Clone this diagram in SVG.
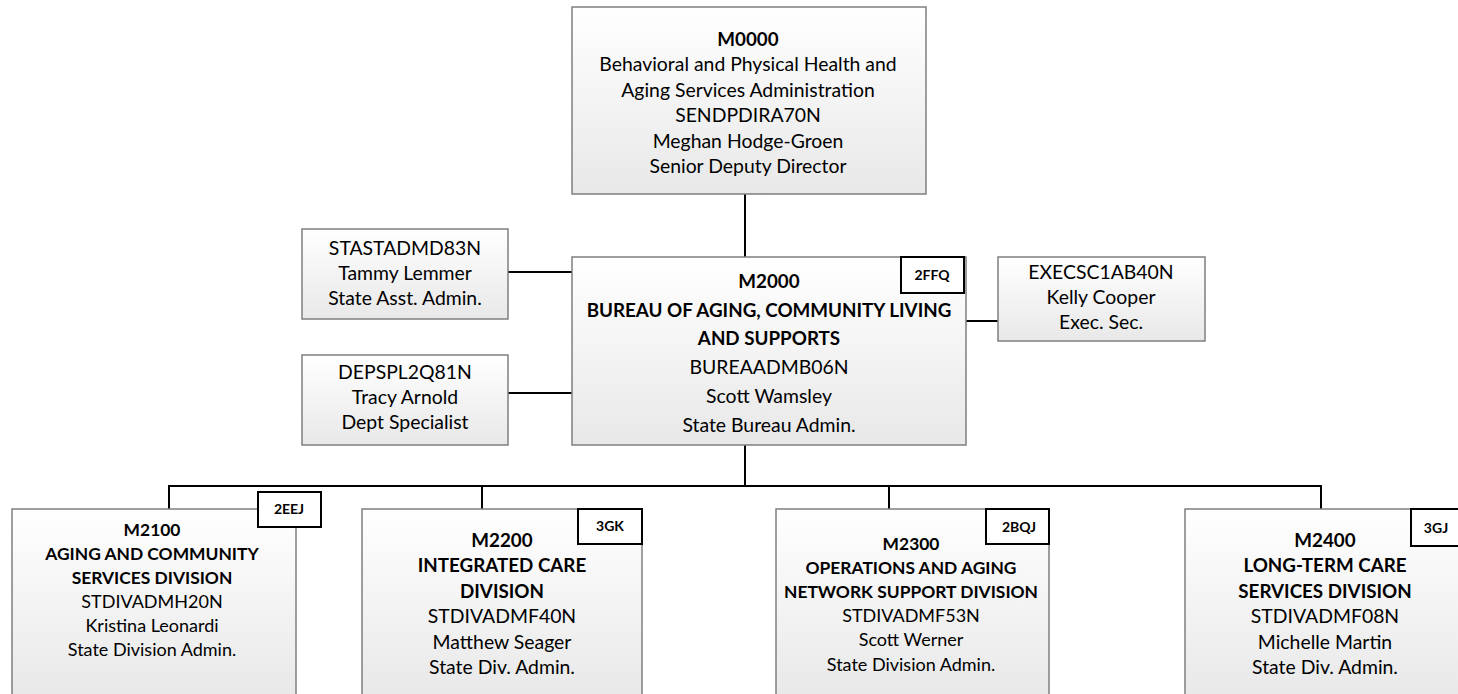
<svg xmlns="http://www.w3.org/2000/svg" width="1458" height="694" viewBox="0 0 1458 694">
<defs>
<linearGradient id="g" x1="0" y1="0" x2="0" y2="1">
<stop offset="0" stop-color="#ffffff"/>
<stop offset="1" stop-color="#e8e8e8"/>
</linearGradient>
<style>
.box{fill:url(#g);stroke:#7f7f7f;stroke-width:1.5}
.badge{fill:#fff;stroke:#000;stroke-width:2}
.t{font-family:Lato,"Liberation Sans",sans-serif;font-size:19.4px;fill:#000;text-anchor:middle}
.b{font-weight:bold;font-size:18.8px}
.s{font-size:18px}
.sb{font-weight:bold;font-size:17.4px}
.bt{font-family:Lato,"Liberation Sans",sans-serif;font-size:14px;font-weight:bold;fill:#000;text-anchor:middle}
.conn{stroke:#000;stroke-width:2;fill:none}
</style>
</defs>
<rect width="1458" height="694" fill="#fff"/>
<g id="connectors">
<path class="conn" d="M745,194 V257"/>
<path class="conn" d="M508,272 H572"/>
<path class="conn" d="M508,393 H572"/>
<path class="conn" d="M966,321 H998"/>
<path class="conn" d="M745,445 V486"/>
<path class="conn" d="M169,509 V486 H1321 V509"/>
<path class="conn" d="M482,486 V509"/>
<path class="conn" d="M889,486 V509"/>
</g>
<g id="M0000">
<rect class="box" x="572" y="7" width="354" height="187"/>
<text class="t b" x="748" y="46">M0000</text>
<text class="t" x="748" y="71.4">Behavioral and Physical Health and</text>
<text class="t" x="748" y="96.8">Aging Services Administration</text>
<text class="t" x="748" y="122.2">SENDPDIRA70N</text>
<text class="t" x="748" y="147.6">Meghan Hodge-Groen</text>
<text class="t" x="748" y="173">Senior Deputy Director</text>
</g>
<g id="STASTADMD83N">
<rect class="box" x="302" y="229" width="206" height="90"/>
<text class="t" x="405" y="255">STASTADMD83N</text>
<text class="t" x="405" y="280">Tammy Lemmer</text>
<text class="t" x="405" y="305">State Asst. Admin.</text>
</g>
<g id="DEPSPL2Q81N">
<rect class="box" x="302" y="355" width="206" height="90"/>
<text class="t" x="405" y="379">DEPSPL2Q81N</text>
<text class="t" x="405" y="404">Tracy Arnold</text>
<text class="t" x="405" y="429">Dept Specialist</text>
</g>
<g id="M2000">
<rect class="box" x="572" y="257" width="394" height="188"/>
<text class="t b" x="769" y="288">M2000</text>
<text class="t b" x="769" y="316.7">BUREAU OF AGING, COMMUNITY LIVING</text>
<text class="t b" x="769" y="345.4">AND SUPPORTS</text>
<text class="t" x="769" y="374.1">BUREAADMB06N</text>
<text class="t" x="769" y="402.8">Scott Wamsley</text>
<text class="t" x="769" y="431.5">State Bureau Admin.</text>
<rect class="badge" x="901" y="257" width="63" height="36"/>
<text class="bt" x="932" y="280">2FFQ</text>
</g>
<g id="EXECSC1AB40N">
<rect class="box" x="998" y="257" width="207" height="84"/>
<text class="t" x="1101" y="279">EXECSC1AB40N</text>
<text class="t" x="1101" y="304">Kelly Cooper</text>
<text class="t" x="1101" y="329">Exec. Sec.</text>
</g>
<g id="M2100">
<rect class="box" x="12" y="509" width="284" height="190"/>
<text class="t sb" x="152" y="536">M2100</text>
<text class="t sb" x="152" y="560">AGING AND COMMUNITY</text>
<text class="t sb" x="152" y="584">SERVICES DIVISION</text>
<text class="t s" x="152" y="608">STDIVADMH20N</text>
<text class="t s" x="152" y="632">Kristina Leonardi</text>
<text class="t s" x="152" y="656">State Division Admin.</text>
<rect class="badge" x="258" y="492" width="63" height="35"/>
<text class="bt" x="289" y="514">2EEJ</text>
</g>
<g id="M2200">
<rect class="box" x="362" y="509" width="280" height="190"/>
<text class="t b" x="502" y="547">M2200</text>
<text class="t b" x="502" y="572.4">INTEGRATED CARE</text>
<text class="t b" x="502" y="597.8">DIVISION</text>
<text class="t" x="502" y="623.2">STDIVADMF40N</text>
<text class="t" x="502" y="648.6">Matthew Seager</text>
<text class="t" x="502" y="674">State Div. Admin.</text>
<rect class="badge" x="578" y="509" width="64" height="35"/>
<text class="bt" x="610" y="531">3GK</text>
</g>
<g id="M2300">
<rect class="box" x="776" y="509" width="273" height="190"/>
<text class="t sb" x="911" y="549.5">M2300</text>
<text class="t sb" x="911" y="573.7">OPERATIONS AND AGING</text>
<text class="t sb" x="911" y="597.9">NETWORK SUPPORT DIVISION</text>
<text class="t s" x="911" y="622.1">STDIVADMF53N</text>
<text class="t s" x="911" y="646.3">Scott Werner</text>
<text class="t s" x="911" y="670.5">State Division Admin.</text>
<rect class="badge" x="986" y="509" width="63" height="35"/>
<text class="bt" x="1019" y="531.5">2BQJ</text>
</g>
<g id="M2400">
<rect class="box" x="1185" y="509" width="280" height="190"/>
<text class="t b" x="1325" y="547">M2400</text>
<text class="t b" x="1325" y="572.4">LONG-TERM CARE</text>
<text class="t b" x="1325" y="597.8">SERVICES DIVISION</text>
<text class="t" x="1325" y="623.2">STDIVADMF08N</text>
<text class="t" x="1325" y="648.6">Michelle Martin</text>
<text class="t" x="1325" y="674">State Div. Admin.</text>
<rect class="badge" x="1411" y="509" width="63" height="37"/>
<text class="bt" x="1436" y="533">3GJ</text>
</g>
</svg>
